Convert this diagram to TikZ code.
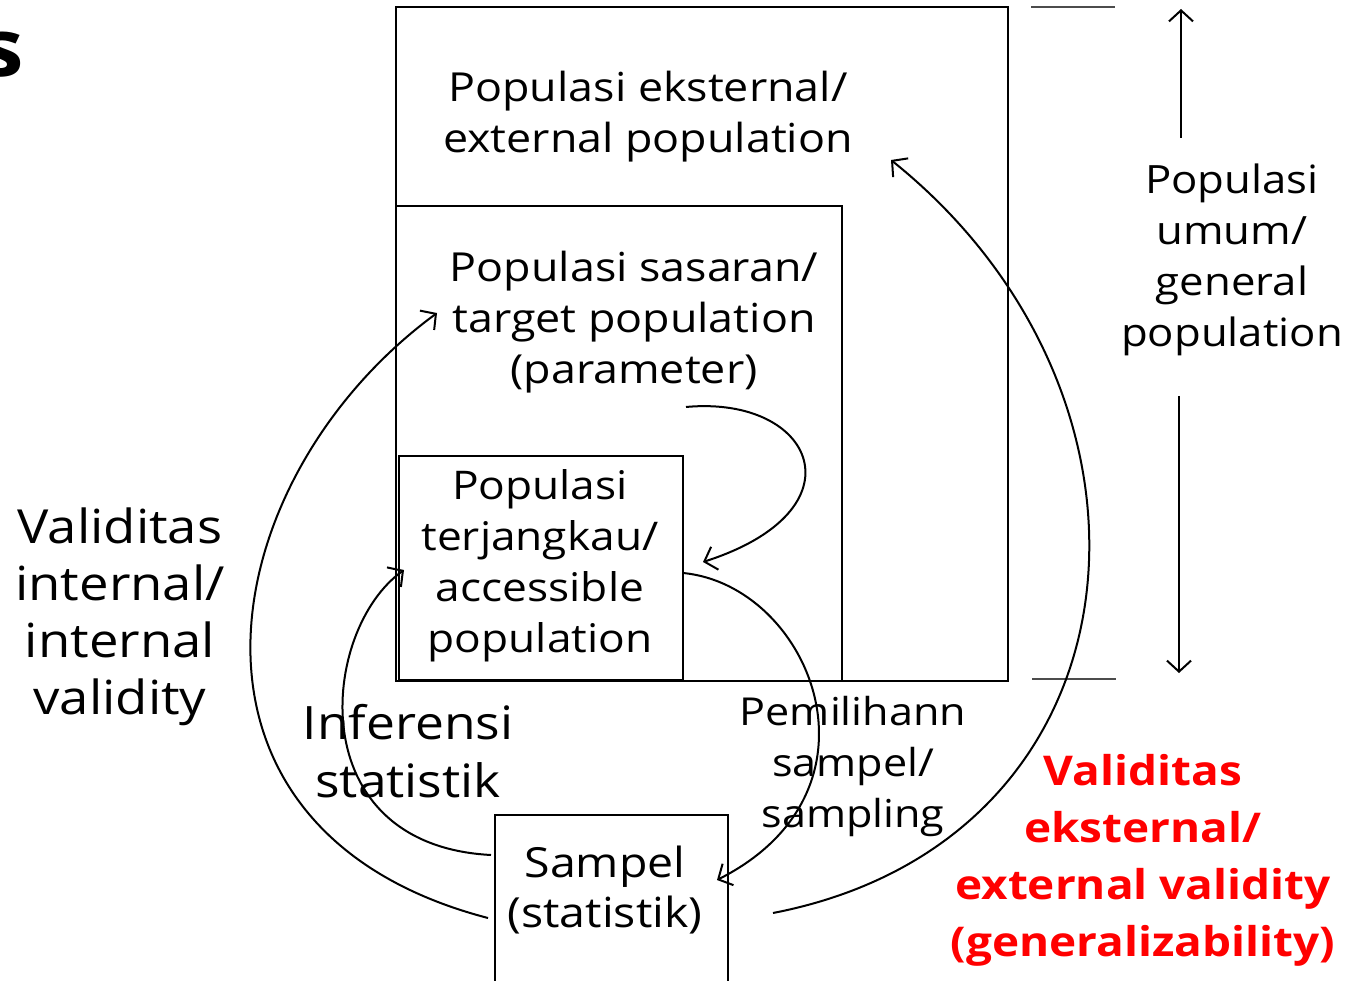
\documentclass[tikz,border=0pt]{standalone}
\usepackage{fontspec}
\setmainfont[FakeStretch=1.12]{Open Sans}
\usetikzlibrary{arrows.meta}
\begin{document}
\begin{tikzpicture}[x=1pt,y=-1pt,
  box/.style={draw=black,line width=2.2pt},
  txt/.style={align=center,font=\fontsize{40}{51}\selectfont,inner sep=0pt},
  bigtxt/.style={align=center,font=\fontsize{47}{57}\selectfont,inner sep=0pt},
  redtxt/.style={align=center,font=\fontsize{41}{57}\selectfont\bfseries,text=red,inner sep=0pt},
  conn/.style={line width=2pt,-{Straight Barb[length=11pt,width=24pt,line width=2pt]}},
  guide/.style={line width=1.3pt,draw=black!70}]
\useasboundingbox (0,0) rectangle (1371,981);
% partial heading letter
\node[anchor=east,inner sep=0pt,font=\fontsize{80}{80}\selectfont\bfseries] (s) at (24,55) {s};
% boxes
\draw[box] (396,7) rectangle (1008,681);
\draw[box] (396,206) rectangle (842,681);
\draw[box] (399,456) rectangle (683,680);
\draw[box] (495,981) -- (495,815) -- (728,815) -- (728,981);
% texts
\node[txt] (ext) at (648,117) {Populasi eksternal/\\external population};
\node[txt] (tgt) at (634,322) {Populasi sasaran/\\target population\\(parameter)};
\node[txt,font=\fontsize{39.5}{51}\selectfont] (acc) at (540,566) {Populasi\\terjangkau/\\accessible\\population};
\node[txt,font=\fontsize{41.5}{50}\selectfont] (smp) at (605,890) {Sampel\\(statistik)};
\node[bigtxt] (intv) at (120,617) {Validitas\\internal/\\internal\\validity};
\node[txt,font=\fontsize{46}{58}\selectfont] (inf) at (408,751) {Inferensi\\statistik};
\node[txt,font=\fontsize{38.5}{51}\selectfont] (pem) at (853,766) {Pemilihann\\sampel/\\sampling};
\node[txt,font=\fontsize{39}{51}\selectfont] (gen) at (1232,260) {Populasi\\umum/\\general\\population};
\node[redtxt] (extv) at (1143,860) {Validitas\\eksternal/\\external validity\\(generalizability)};
% guide lines and vertical arrows
\draw[guide] (1031,7) -- (1115,7);
\draw[guide] (1032,679) -- (1116,679);
\coordinate (upS) at (1181,138); \coordinate (upE) at (1181,9);
\coordinate (dnS) at (1179,396); \coordinate (dnE) at (1179,673);
\draw[conn] (upS) -- (upE);
\draw[conn] (dnS) -- (dnE);
% curved connectors
\coordinate (p1) at (686,407); \coordinate (p1e) at (703,562);
\draw[conn] (p1) .. controls (815,395) and (865,510) .. (p1e);
\coordinate (p2) at (683,573); \coordinate (p2e) at (717,880);
\draw[conn] (p2) .. controls (810,585) and (895,790) .. (p2e);
\coordinate (p3) at (491,855); \coordinate (p3e) at (404,570);
\draw[conn] (p3) .. controls (300,845) and (320,630) .. (p3e);
\coordinate (p4) at (488,918); \coordinate (p4e) at (437,313);
\draw[conn] (p4) .. controls (150,830) and (210,480) .. (p4e);
\coordinate (p5) at (773,913); \coordinate (p5e) at (891,160);
\draw[conn] (p5) .. controls (1150,840) and (1190,400) .. (p5e);
\end{tikzpicture}
\end{document}
